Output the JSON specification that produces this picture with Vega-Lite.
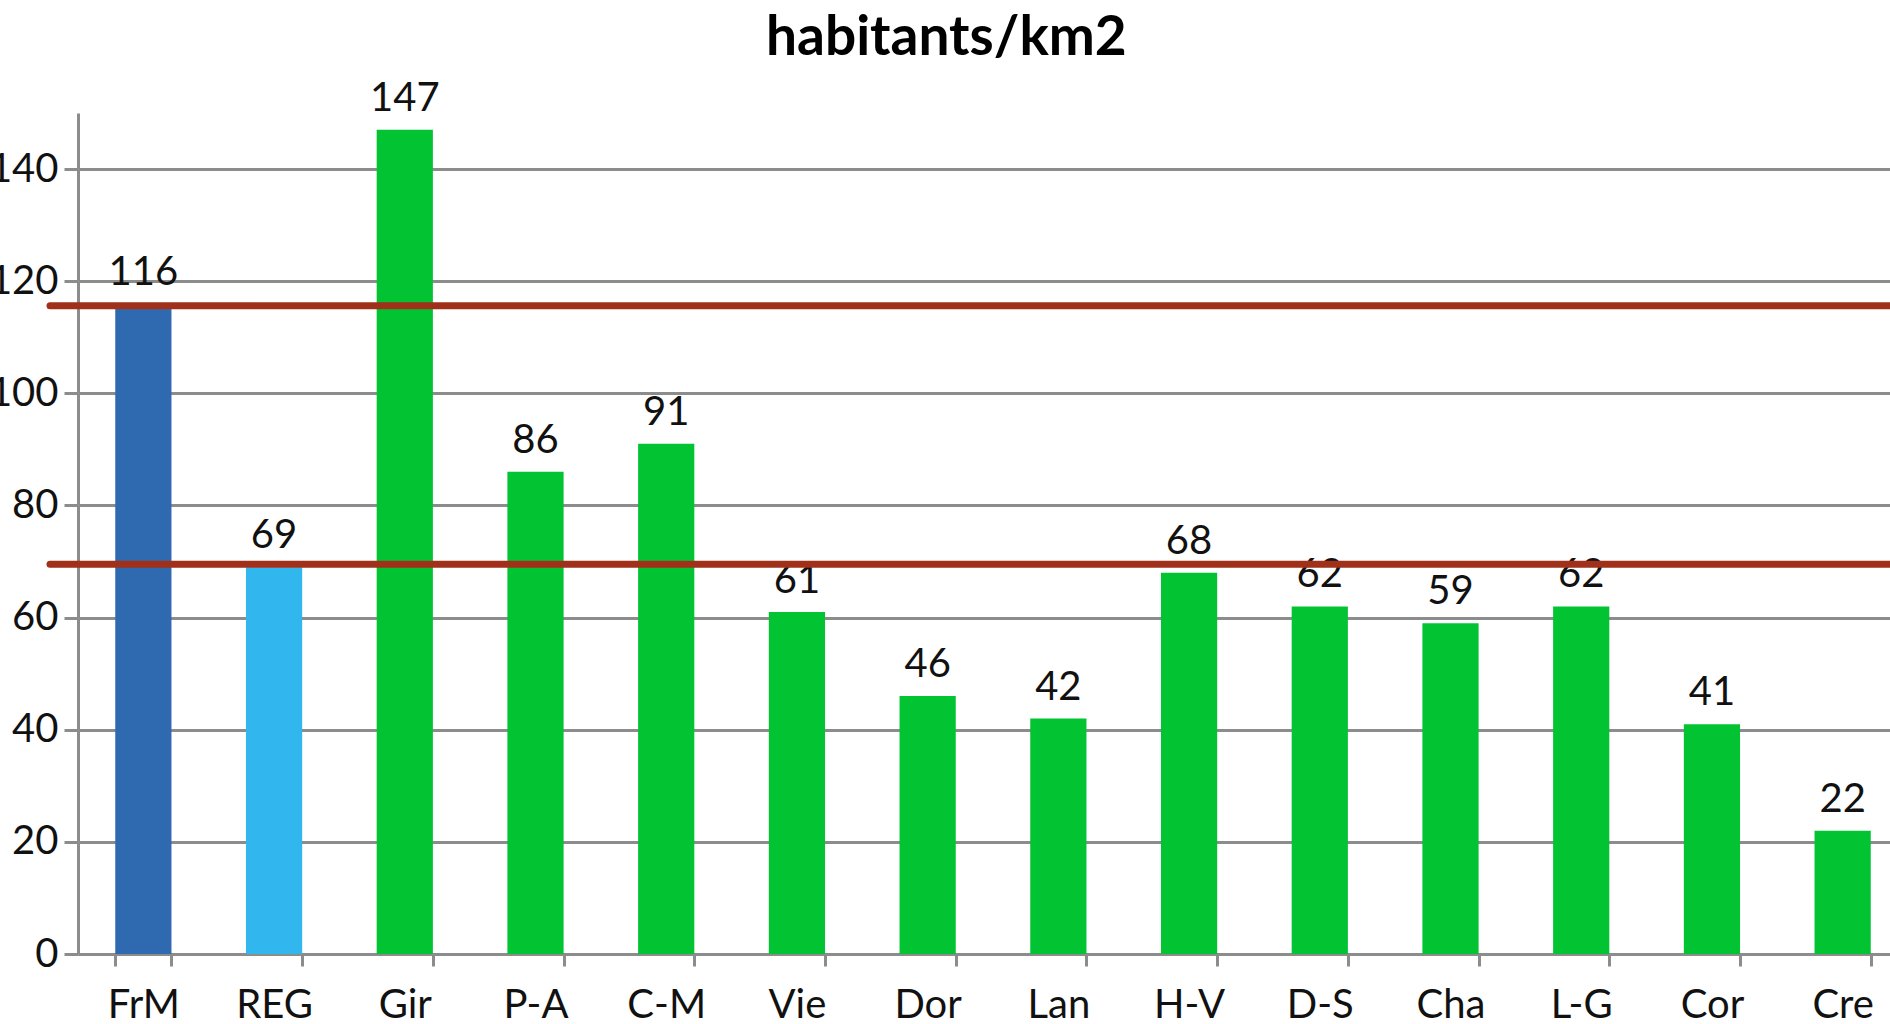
{
  "$schema": "https://vega.github.io/schema/vega-lite/v6.json",
  "autosize": {"type": "none"},
  "padding": {"left": 50, "top": 113, "right": 0, "bottom": 70},
  "width": 1840,
  "height": 841,
  "background": "white",
  "title": {
    "text": "habitants/km2",
    "font": "Lato",
    "fontSize": 55,
    "fontWeight": "bold",
    "color": "#000000",
    "anchor": "start",
    "align": "left",
    "frame": "group",
    "baseline": "alphabetic",
    "offset": 54,
    "dx": 716,
    "dy": 85
  },
  "config": {
    "view": {"stroke": null},
    "axis": {
      "labelFont": "Lato",
      "labelFontSize": 40,
      "labelColor": "#111111",
      "domainColor": "#8c8c8c",
      "domainWidth": 3,
      "tickColor": "#8c8c8c",
      "tickWidth": 3,
      "gridColor": "#8c8c8c",
      "gridWidth": 3,
      "gridOpacity": 1,
      "title": null
    }
  },
  "datasets": {
    "densite": [
      {"zone": "FrM", "densite": 116, "groupe": "France"},
      {"zone": "REG", "densite": 69, "groupe": "Région"},
      {"zone": "Gir", "densite": 147, "groupe": "Département"},
      {"zone": "P-A", "densite": 86, "groupe": "Département"},
      {"zone": "C-M", "densite": 91, "groupe": "Département"},
      {"zone": "Vie", "densite": 61, "groupe": "Département"},
      {"zone": "Dor", "densite": 46, "groupe": "Département"},
      {"zone": "Lan", "densite": 42, "groupe": "Département"},
      {"zone": "H-V", "densite": 68, "groupe": "Département"},
      {"zone": "D-S", "densite": 62, "groupe": "Département"},
      {"zone": "Cha", "densite": 59, "groupe": "Département"},
      {"zone": "L-G", "densite": 62, "groupe": "Département"},
      {"zone": "Cor", "densite": 41, "groupe": "Département"},
      {"zone": "Cre", "densite": 22, "groupe": "Département"}
    ],
    "reperes": [
      {"repere": "France métropolitaine", "valeur": 115.6},
      {"repere": "Région", "valeur": 69.5}
    ]
  },
  "layer": [
    {
      "data": {"name": "densite"},
      "mark": {"type": "bar"},
      "encoding": {
        "x": {
          "field": "zone",
          "type": "nominal",
          "sort": null,
          "scale": {"range": [28, 1858], "paddingInner": 0.57, "paddingOuter": 0.285},
          "axis": {
            "labelAngle": 0,
            "tickBand": "extent",
            "tickSize": 12,
            "labelPadding": 19,
            "grid": false
          }
        },
        "y": {
          "field": "densite",
          "type": "quantitative",
          "scale": {"domain": [0, 150], "nice": false},
          "axis": {
            "values": [0, 20, 40, 60, 80, 100, 120, 140],
            "grid": true,
            "tickSize": 14,
            "labelPadding": 6,
            "offset": -28
          }
        },
        "color": {
          "field": "groupe",
          "type": "nominal",
          "scale": {"domain": ["France", "Région", "Département"], "range": ["#2F6AB0", "#31B6EE", "#02C433"]},
          "legend": null
        }
      }
    },
    {
      "data": {"name": "densite"},
      "mark": {"type": "text", "baseline": "alphabetic", "align": "center", "dy": -19, "font": "Lato", "fontSize": 40, "color": "#111111"},
      "encoding": {
        "x": {"field": "zone", "type": "nominal", "sort": null},
        "y": {"field": "densite", "type": "quantitative"},
        "text": {"field": "densite", "type": "quantitative", "format": "d"}
      }
    },
    {
      "data": {"name": "reperes"},
      "mark": {"type": "rule", "color": "#A0301A", "strokeWidth": 7, "strokeCap": "round"},
      "encoding": {
        "y": {"field": "valeur", "type": "quantitative"}
      }
    }
  ]
}
